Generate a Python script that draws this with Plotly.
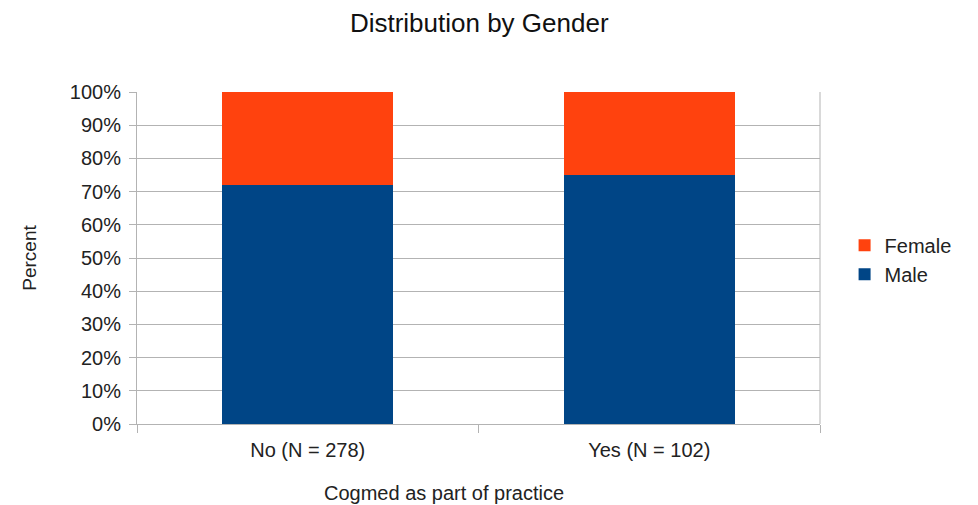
import plotly.graph_objects as go

categories = ["No (N = 278)", "Yes (N = 102)"]
male = [72, 75]
female = [28, 25]
y_ticks = [0, 10, 20, 30, 40, 50, 60, 70, 80, 90, 100]
y_tick_text = [f"{v}%" for v in y_ticks]

fig = go.Figure()
fig.add_trace(go.Bar(x=categories, y=male, name="Male", marker=dict(color="#004586", line=dict(width=0))))
fig.add_trace(go.Bar(x=categories, y=female, name="Female", marker=dict(color="#FF420E", line=dict(width=0))))

fig.update_layout(
    barmode="stack",
    bargap=0.5,
    width=978, height=505,
    margin=dict(l=137, r=158, t=92, b=81),
    paper_bgcolor="white", plot_bgcolor="white",
    font=dict(family="Liberation Sans, Arial, sans-serif", size=19, color="#222222"),
    title=dict(text="Distribution by Gender", x=0.49, xanchor="center", y=0.955, yanchor="middle",
               font=dict(size=26, color="#111111")),
    legend=dict(x=1.036, y=0.495, xanchor="left", yanchor="middle", traceorder="reversed",
                font=dict(size=20), itemwidth=30, tracegroupgap=0, bgcolor="rgba(0,0,0,0)"),
    showlegend=True,
)
fig.update_xaxes(
    type="category", tickson="boundaries", ticks="outside", ticklen=8, tickcolor="#b3b3b3",
    showline=True, linecolor="#b3b3b3", linewidth=1, mirror=False, ticklabelstandoff=8,
    tickfont=dict(size=20), showgrid=False, zeroline=False,
)
fig.update_yaxes(
    range=[0, 100], tickvals=y_ticks, ticktext=y_tick_text, ticks="outside", ticklen=7, tickcolor="#b3b3b3",
    showgrid=True, gridcolor="#b3b3b3", gridwidth=1, showline=True, linecolor="#b3b3b3", linewidth=1,
    tickfont=dict(size=20), zeroline=False, ticklabelstandoff=4,
    title=dict(text="Percent", font=dict(size=19), standoff=28),
)
# right border
fig.add_shape(type="line", xref="paper", yref="paper", x0=1, x1=1, y0=0, y1=1,
              line=dict(color="#b3b3b3", width=1))
fig.add_annotation(text="Cogmed as part of practice", xref="paper", yref="paper",
                   x=0.449, y=-0.208, xanchor="center", yanchor="middle", showarrow=False,
                   font=dict(size=20))
fig.write_html("out.html")
